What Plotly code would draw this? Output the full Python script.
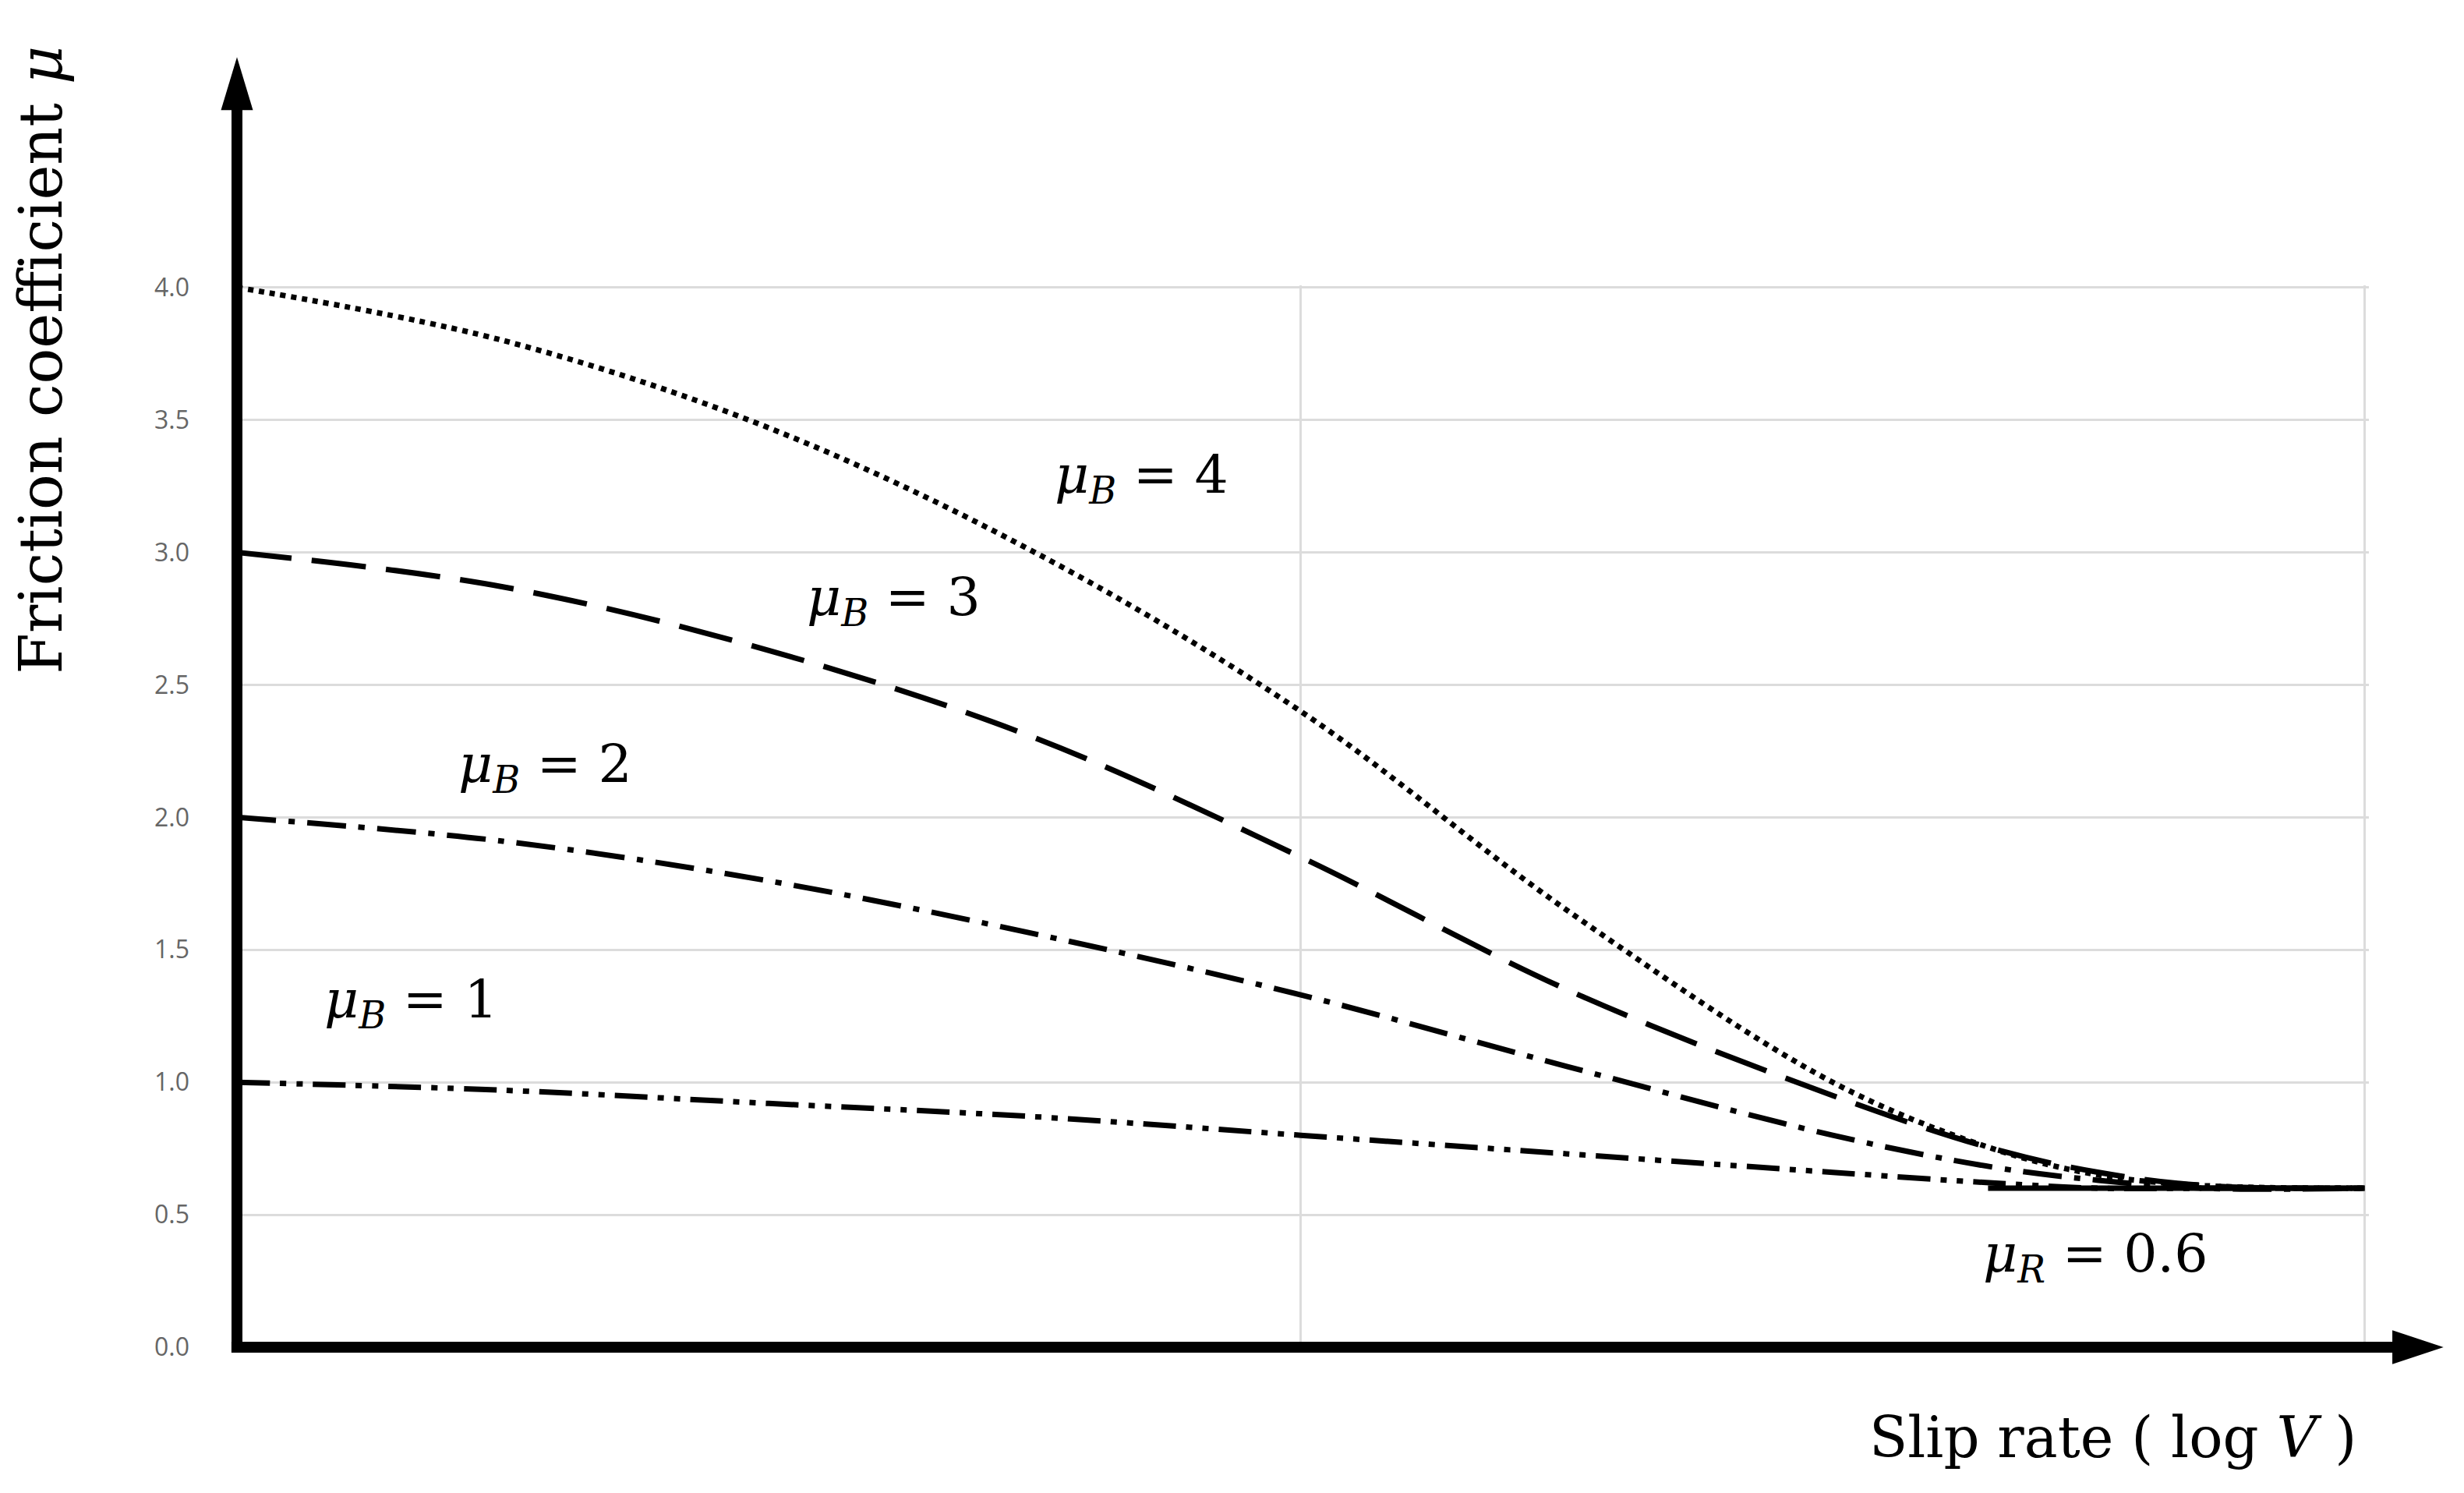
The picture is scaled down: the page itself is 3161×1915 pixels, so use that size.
import plotly.graph_objects as go

x_vals = [0.0, 0.25, 0.5, 0.75, 1.0, 1.25, 1.5, 1.65, 1.75, 1.85, 2.0]
mu_b4 = [4.0, 3.8, 3.47, 3.0, 2.4, 1.65, 1.0, 0.75, 0.65, 0.61, 0.6]
mu_b3 = [3.0, 2.87, 2.63, 2.3, 1.85, 1.35, 0.95, 0.75, 0.66, 0.61, 0.6]
mu_b2 = [2.0, 1.91, 1.76, 1.56, 1.33, 1.06, 0.8, 0.68, 0.63, 0.6, 0.6]
mu_b1 = [1.0, 0.97, 0.92, 0.87, 0.8, 0.73, 0.66, 0.62, 0.6, 0.6, 0.6]
mu_r_x = [1.646, 2.0]
mu_r = [0.6, 0.6]
y_ticks = [0.0, 0.5, 1.0, 1.5, 2.0, 2.5, 3.0, 3.5, 4.0]
labels = ["<i>μ</i><sub><i>B</i></sub> = 4", "<i>μ</i><sub><i>B</i></sub> = 3",
          "<i>μ</i><sub><i>B</i></sub> = 2", "<i>μ</i><sub><i>B</i></sub> = 1",
          "<i>μ</i><sub><i>R</i></sub> = 0.6"]
label_x = [0.85, 0.617, 0.29, 0.164, 1.747]
label_y = [3.28, 2.82, 2.19, 1.30, 0.34]

fig = go.Figure()
styles = [(mu_b4, "dot"), (mu_b3, "70px,26px"), (mu_b2, "50px,16px,8px,16px"),
          (mu_b1, "42px,13px,8px,13px,8px,13px")]
for ys, d in styles:
    fig.add_trace(go.Scatter(x=x_vals, y=ys, mode="lines", line=dict(color="black", width=7, dash=d, shape="spline"),
                             showlegend=False))
fig.add_trace(go.Scatter(x=mu_r_x, y=mu_r, mode="lines", line=dict(color="black", width=7), showlegend=False))

for t, lx, ly in zip(labels, label_x, label_y):
    fig.add_annotation(x=lx, y=ly, text=t, showarrow=False,
                       font=dict(family="DejaVu Serif", size=68, color="black"))

L = dict(color="black", width=0)
fig.add_shape(type="line", xref="paper", yref="paper", x0=0, y0=0, x1=0, y1=1.18, line=dict(color="black", width=14))
fig.add_shape(type="line", xref="paper", yref="paper", x0=-0.0026, y0=0, x1=1.015, y1=0, line=dict(color="black", width=14))
fig.add_shape(type="path", xref="paper", yref="paper",
              path="M -0.0075,1.165 L 0,1.215 L 0.0075,1.165 Z", fillcolor="black", line=L)
fig.add_shape(type="path", xref="paper", yref="paper",
              path="M 1.011,-0.016 L 1.035,0 L 1.011,0.016 Z", fillcolor="black", line=L)

fig.add_annotation(xref="paper", yref="paper", x=-0.092, y=0.93, text="Friction coefficient <i>μ</i>",
                   textangle=-90, showarrow=False, xanchor="center", yanchor="middle",
                   font=dict(family="DejaVu Serif", size=76, color="black"))
fig.add_annotation(xref="paper", yref="paper", x=0.995, y=-0.085, text="Slip rate ( log <i>V</i> )",
                   showarrow=False, xanchor="right", yanchor="middle",
                   font=dict(family="DejaVu Serif", size=72, color="black"))

fig.update_layout(width=3161, height=1915, plot_bgcolor="white", paper_bgcolor="white",
                  margin=dict(l=296, r=130, t=358, b=195))
fig.update_xaxes(range=[0, 2.004], tickvals=[0, 1, 2], showticklabels=False, showgrid=True,
                 gridcolor="#dcdcdc", gridwidth=3, zeroline=False, showline=False)
fig.update_yaxes(range=[0, 4.008], tickvals=y_ticks, tickformat=".1f", showgrid=True, gridcolor="#dcdcdc",
                 gridwidth=3, zeroline=False, showline=False, ticklabelstandoff=60,
                 tickfont=dict(family="Open Sans", size=32, color="#666666"))
fig.write_html("out.html")
